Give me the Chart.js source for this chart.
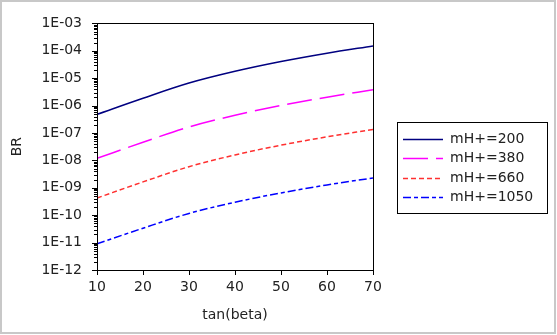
<!DOCTYPE html>
<html>
<head>
<meta charset="utf-8">
<script src="https://cdn.jsdelivr.net/npm/chart.js@4/dist/chart.umd.min.js"></script>
<style>
  html, body { margin: 0; padding: 0; background: #fff; }
  #chart { display: block; }
</style>
</head>
<body>
<canvas id="chart" width="557" height="335"></canvas>
<script>
// ---- Data ----------------------------------------------------------------

const TAN_BETA = [10, 20, 30, 40, 50, 60, 70];
const BR_200 = [4.77e-7, 1.85e-6, 6.63e-6, 1.78e-5, 4.05e-5, 8.14e-5, 1.51e-4];
const BR_380 = [1.19e-8, 4.6e-8, 1.66e-7, 4.45e-7, 1.01e-6, 2.03e-6, 3.78e-6];
const BR_660 = [4.24e-10, 1.64e-9, 5.9e-9, 1.58e-8, 3.6e-8, 7.24e-8, 1.34e-7];
const BR_1050 = [9.0e-12, 3.36e-11, 1.16e-10, 2.97e-10, 6.5e-10, 1.27e-9, 2.29e-9];
const SERIES_NAMES = ["mH+=200", "mH+=380", "mH+=660", "mH+=1050"];
const Y_TICKS = [1e-12, 1e-11, 1e-10, 1e-9, 1e-8, 1e-7, 1e-6, 1e-5, 1e-4, 1e-3];
const Y_TICK_LABELS = ["1E-12", "1E-11", "1E-10", "1E-09", "1E-08", "1E-07", "1E-06", "1E-05", "1E-04", "1E-03"];
const X_TICKS = [10, 20, 30, 40, 50, 60, 70];

// ---- Styles --------------------------------------------------------------

const FONT = "'DejaVu Sans', sans-serif";
const TEXT = "#222";
const STYLES = [
  { color: "#000080", dash: [] },
  { color: "#ff00ff", dash: [25, 8] },
  { color: "#ff3030", dash: [5, 3] },
  { color: "#0000ff", dash: [8, 3, 4, 3] },
];

function makeSet(i, values) {
  return {
    label: SERIES_NAMES[i],
    data: TAN_BETA.map((x, j) => ({ x, y: values[j] })),
    borderColor: STYLES[i].color,
    backgroundColor: STYLES[i].color,
    borderDash: STYLES[i].dash,
    borderWidth: 1.5,
    pointRadius: 0,
    cubicInterpolationMode: "monotone",
    fill: false,
  };
}

// ---- Frame, plot box, minor ticks and boxed legend ----------------------

const decor = {
  id: "decor",
  beforeDraw(chart) {
    const { ctx, width, height } = chart;
    ctx.save();
    ctx.fillStyle = "#fff";
    ctx.fillRect(0, 0, width, height);
    ctx.strokeStyle = "#c8c8c8";
    ctx.lineWidth = 2;
    ctx.strokeRect(1, 1, width - 3, height - 3);
    ctx.restore();
  },
  afterDraw(chart) {
    const { ctx, chartArea: a } = chart;
    const y = chart.scales.y;
    ctx.save();
    ctx.strokeStyle = "#000";
    ctx.lineWidth = 1;
    ctx.strokeRect(Math.round(a.left) + 0.5, Math.round(a.top) + 0.5,
      Math.round(a.right - a.left), Math.round(a.bottom - a.top));

    // log ticks on the y axis: long at decades, short in between
    ctx.beginPath();
    for (let i = 0; i < Y_TICKS.length; i++) {
      for (let k = 1; k <= 9; k++) {
        const v = Y_TICKS[i] * k;
        if (v > Y_TICKS[Y_TICKS.length - 1] * 1.0001) break;
        const py = Math.round(y.getPixelForValue(v)) + 0.5;
        const len = k === 1 ? 5 : 3;
        ctx.moveTo(a.left - len, py);
        ctx.lineTo(a.left, py);
      }
    }
    ctx.stroke();

    // legend
    const lx = 397, ly = 122, lw = 150, lh = 91;
    ctx.strokeStyle = "#000";
    ctx.strokeRect(lx + 0.5, ly + 0.5, lw, lh);
    ctx.font = "14px " + FONT;
    ctx.textBaseline = "middle";
    ctx.fillStyle = TEXT;
    chart.data.datasets.forEach((ds, i) => {
      const ry = ly + 17 + i * 19.3;
      ctx.save();
      ctx.strokeStyle = ds.borderColor;
      ctx.lineWidth = 1.5;
      ctx.setLineDash(ds.borderDash);
      ctx.beginPath();
      ctx.moveTo(lx + 6, Math.round(ry) + 0.5);
      ctx.lineTo(lx + 46, Math.round(ry) + 0.5);
      ctx.stroke();
      ctx.restore();
      ctx.fillText(ds.label, lx + 53, ry + 0.5);
    });
    ctx.restore();
  },
};

// ---- Chart ---------------------------------------------------------------

new Chart(document.getElementById("chart"), {
  type: "line",
  data: {
    datasets: [
      makeSet(0, BR_200),
      makeSet(1, BR_380),
      makeSet(2, BR_660),
      makeSet(3, BR_1050),
    ],
  },
  options: {
    responsive: false,
    animation: false,
    layout: { padding: { left: 9, top: 18, right: 184, bottom: 11 } },
    plugins: { legend: { display: false }, tooltip: { enabled: false } },
    scales: {
      x: {
        type: "linear",
        min: 10,
        max: 70,
        afterBuildTicks: (s) => { s.ticks = X_TICKS.map((v) => ({ value: v })); },
        afterFit: (s) => { s.height = 335 - 11 - 270; },
        grid: { drawOnChartArea: false, drawTicks: true, tickLength: 5, color: "#000" },
        border: { display: false },
        ticks: { color: TEXT, font: { family: FONT, size: 14 }, padding: 4, maxRotation: 0 },
        title: { display: true, text: "tan(beta)", color: TEXT, font: { family: FONT, size: 14 }, padding: 0 },
      },
      y: {
        type: "logarithmic",
        min: Y_TICKS[0],
        max: Y_TICKS[Y_TICKS.length - 1],
        afterBuildTicks: (s) => { s.ticks = Y_TICKS.map((v) => ({ value: v })); },
        afterFit: (s) => { s.width = 97 - 9; },
        grid: { display: false, drawTicks: false },
        border: { display: false },
        ticks: {
          color: TEXT,
          font: { family: FONT, size: 14 },
          padding: 15,
          autoSkip: false,
          callback: (v) => {
            const i = Y_TICKS.findIndex((t) => Math.abs(t - v) / t < 1e-6);
            return i < 0 ? "" : Y_TICK_LABELS[i];
          },
        },
        title: { display: true, text: "BR", color: TEXT, font: { family: FONT, size: 14 }, padding: 0 },
      },
    },
  },
  plugins: [decor],
});
</script>
</body>
</html>
